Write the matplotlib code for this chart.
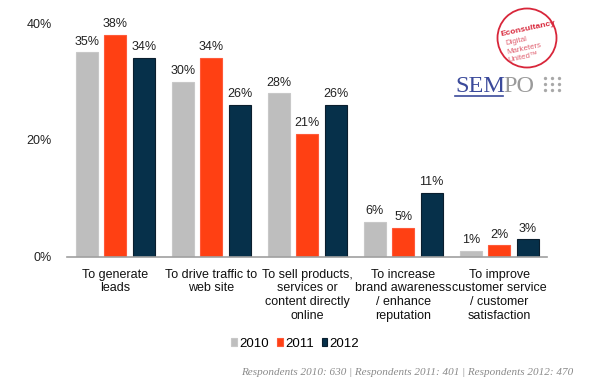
import numpy as np
import matplotlib.pyplot as plt
from matplotlib.patches import Circle

categories = ["To generate\nleads", "To drive traffic to\nweb site",
              "To sell products,\nservices or\ncontent directly\nonline",
              "To increase\nbrand awareness\n/ enhance\nreputation",
              "To improve\ncustomer service\n/ customer\nsatisfaction"]
years = ["2010", "2011", "2012"]
v2010 = [35, 30, 28, 6, 1]
v2011 = [38, 34, 21, 5, 2]
v2012 = [34, 26, 26, 11, 3]
yticks = [0, 20, 40]
note = "Respondents 2010: 630 | Respondents 2011: 401 | Respondents 2012: 470"

colors = ["#BEBEBE", "#FF4013", "#06304A"]
edges = ["#C8C8C8", "#FF5A3A", "#0A1E2E"]

plt.rcParams['font.family'] = ['Liberation Sans', 'DejaVu Sans']

fig = plt.figure(figsize=(6, 3.91), dpi=100)
ax = fig.add_axes([0.112, 0.343, 0.8, 0.598])

x = np.arange(len(categories))
w = 0.23
step = 0.297
for i, (vals, yr) in enumerate(zip([v2010, v2011, v2012], years)):
    pos = x + (i - 1) * step
    bars = ax.bar(pos, vals, w, color=colors[i], edgecolor=edges[i], linewidth=0.8, label=yr)
    for b, v in zip(bars, vals):
        ax.text(b.get_x() + b.get_width() / 2, v + 0.8, f"{v}%", ha="center", va="bottom",
                fontsize=9, color="#222222")

ax.set_xlim(-0.5, len(categories) - 0.5)
ax.set_ylim(0, 40)
ax.set_yticks(yticks)
ax.set_yticklabels([f"{t}%" for t in yticks], fontsize=9, color="#222222")
ax.set_xticks(x)
ax.set_xticklabels(categories, fontsize=9, color="#111111", linespacing=1.2)
ax.tick_params(axis="y", length=0, pad=11)
ax.tick_params(axis="x", length=0, pad=8.5)
for s in ["top", "right", "left"]:
    ax.spines[s].set_visible(False)
ax.spines["bottom"].set_color("#A0A0A0")
ax.spines["bottom"].set_linewidth(1.2)

leg = fig.legend(loc="center left", bbox_to_anchor=(0.377, 0.121), ncol=3, frameon=False,
                 fontsize=9.5, handlelength=0.45, handleheight=0.45, handletextpad=0.15,
                 columnspacing=0.6, borderaxespad=0)

fig.text(0.679, 0.048, note, ha="center", va="center", fontsize=8, style="italic",
         color="#8A8A8A", family=["Liberation Serif", "DejaVu Serif"])

# logo overlay in pixel coordinates
ov = fig.add_axes([0, 0, 1, 1], zorder=5)
ov.set_xlim(0, 600)
ov.set_ylim(391, 0)
ov.axis("off")
ov.add_patch(Circle((527, 38), 29.5, fill=False, edgecolor="#D8263A", linewidth=1.3))
ov.text(528, 29, "Econsultancy", fontsize=6.1, color="#D8263A", fontweight="bold",
        ha="center", va="center", rotation=12)
ov.text(505, 41, "Digital", fontsize=5.7, color="#E06070", ha="left", va="center", rotation=12)
ov.text(506, 49, "Marketers", fontsize=5.7, color="#E06070", ha="left", va="center", rotation=12)
ov.text(507, 57, "United\u2122", fontsize=5.7, color="#E06070", ha="left", va="center", rotation=12)
serif = ["Liberation Serif", "DejaVu Serif"]
ov.text(455, 86, "SEM", fontsize=17.5, color="#3B4A9B", family=serif, ha="left", va="center")
ov.text(503, 86, "PO", fontsize=17.5, color="#9A9A9A", family=serif, ha="left", va="center")
ov.plot([455, 503], [96, 96], color="#3B4A9B", linewidth=1.2)
for dx in [545, 552, 559]:
    for dy in [78, 84, 90]:
        ov.plot(dx, dy, "o", color="#A8A8A8", markersize=2.4, markeredgewidth=0)

fig.savefig("out.png", dpi=100, facecolor="white")
